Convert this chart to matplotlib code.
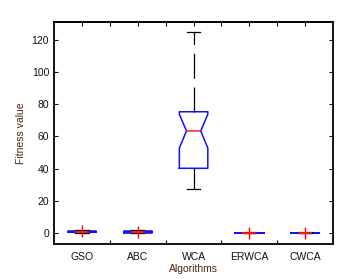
import matplotlib
matplotlib.use("Agg")
import matplotlib.pyplot as plt

algorithms = ["GSO", "ABC", "WCA", "ERWCA", "CWCA"]
q1 = [0.4, 0.2, 40.2, 0.05, 0.05]
med = [0.9, 0.6, 63.4, 0.15, 0.15]
q3 = [1.4, 1.2, 75.3, 0.3, 0.3]
whislo = [0.0, 0.0, 27.1, 0.0, 0.0]
whishi = [2.0, 1.8, 125.0, 0.5, 0.5]
cilo = [0.9, 0.6, 52.8, 0.15, 0.15]
cihi = [0.9, 0.6, 73.7, 0.15, 0.15]
outliers = [[1.0], [0.8], [], [0.2], [0.2]]
yticks = [0, 20, 40, 60, 80, 100, 120]

plt.rcParams['font.family'] = ['Liberation Sans Narrow', 'Liberation Sans', 'DejaVu Sans']

fig = plt.figure(figsize=(3.51, 2.79), dpi=100)
ax = fig.add_axes([0.154, 0.1254, 0.795, 0.7956])

stats = []
for i in range(len(algorithms)):
    stats.append(dict(q1=q1[i], med=med[i], q3=q3[i], whislo=whislo[i], whishi=whishi[i],
                      cilo=cilo[i], cihi=cihi[i], fliers=outliers[i]))

positions = list(range(1, len(algorithms) + 1))
ax.bxp(stats, positions=positions, widths=0.51, capwidths=0.24, shownotches=True,
       boxprops=dict(color='#1010ff', linewidth=1.1),
       medianprops=dict(color='#ff2020', linewidth=1.1),
       whiskerprops=dict(color='black', linewidth=0.9, linestyle=(0, (20, 7))),
       capprops=dict(color='black', linewidth=0.9),
       flierprops=dict(marker='+', markeredgecolor='#ff0000', markersize=8, markeredgewidth=1.0,
                       linestyle='none'))

ax.set_xlim(0.5, 5.5)
ax.set_ylim(-6.8, 131)
ax.set_xticks(positions)
ax.set_xticklabels(algorithms)
ax.set_xticks([1.5, 2.5, 3.5, 4.5], minor=True)
ax.set_yticks(yticks)
ax.tick_params(axis='x', which='major', length=0, pad=6, labelsize=7.5, colors='#111111')
ax.tick_params(axis='x', which='minor', direction='in', length=3, width=0.8, top=False)
ax.tick_params(axis='y', which='major', direction='in', length=3, width=0.8, right=True,
               labelsize=7.5, colors='#111111')
sec = ax.secondary_xaxis('top')
sec.set_xticks([1, 1.5, 2, 2.5, 3, 3.5, 4, 4.5, 5])
sec.tick_params(direction='in', length=3, width=0.8, labeltop=False)
sec.spines['top'].set_linewidth(1.3)
for s in ax.spines.values():
    s.set_linewidth(1.3)

ax.set_xlabel("Algorithms", fontsize=7.5, color='#4a2410', labelpad=1)
ax.set_ylabel("Fitness value", fontsize=7.5, color='#4a2410', labelpad=4)

fig.savefig("out.png", dpi=100)
